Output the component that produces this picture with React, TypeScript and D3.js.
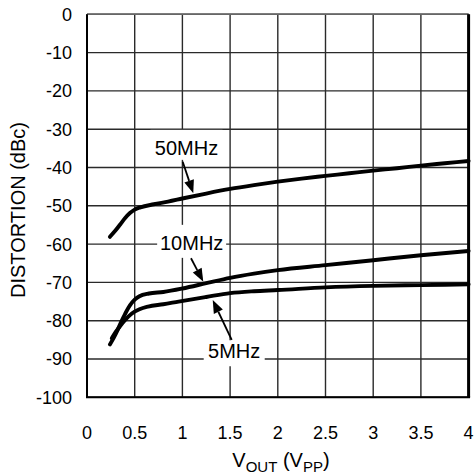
import React from "react";
import * as d3 from "d3";

const xTicks = [0, 0.5, 1, 1.5, 2, 2.5, 3, 3.5, 4];
const xTickLabels = ["0", "0.5", "1", "1.5", "2", "2.5", "3", "3.5", "4"];
const yTicks = [0, -10, -20, -30, -40, -50, -60, -70, -80, -90, -100];

const x50 = [0.24, 0.3, 0.35, 0.4, 0.45, 0.5, 0.56, 0.7, 0.85, 1.0, 1.25, 1.5, 1.75, 2.0, 2.25, 2.5, 2.75, 3.0, 3.25, 3.5, 3.75, 4.0];
const y50 = [-58.1, -56.4, -54.8, -53.2, -51.9, -51.0, -50.4, -49.6, -48.9, -48.1, -46.8, -45.6, -44.6, -43.7, -42.9, -42.2, -41.5, -40.8, -40.2, -39.5, -38.9, -38.3];

const x10 = [0.24, 0.28, 0.32, 0.36, 0.4, 0.45, 0.5, 0.55, 0.65, 0.8, 1.0, 1.25, 1.5, 1.75, 2.0, 2.5, 3.0, 3.5, 4.0];
const y10 = [-86.2, -84.5, -82.5, -80.2, -78.2, -76.0, -74.5, -73.6, -72.9, -72.5, -71.6, -70.2, -68.8, -67.7, -66.8, -65.5, -64.2, -62.9, -61.8];

const x5 = [0.26, 0.3, 0.35, 0.4, 0.47, 0.55, 0.64, 0.8, 0.96, 1.25, 1.5, 1.75, 2.0, 2.5, 3.0, 3.5, 4.0];
const y5 = [-84.6, -83.0, -81.3, -79.8, -78.1, -77.0, -76.3, -75.7, -75.0, -73.8, -72.8, -72.3, -72.0, -71.3, -70.9, -70.7, -70.5];

const seriesNames = ["50MHz", "10MHz", "5MHz"];
const seriesX = [x50, x10, x5];
const seriesY = [y50, y10, y5];

// annotation anchors in data units: label center x, label baseline y, arrow tail, arrow head
const labelX = [1.043, 1.097, 1.543];
const labelY = [-36.7, -61.5, -89.8];
const tailX = [1.003, 1.09, 1.517];
const tailY = [-38.5, -63.7, -85.0];
const headX = [1.114, 1.219, 1.318];
const headY = [-46.7, -69.8, -74.6];

const W = 474;
const H = 476;
const left = 87;
const right = 468.6;
const top = 14.3;
const bottom = 397.3;
const font = "'Liberation Sans', Arial, Helvetica, sans-serif";

export default function App() {
  const xs = d3.scaleLinear().domain([0, 4]).range([left, right]);
  const ys = d3.scaleLinear().domain([0, -100]).range([top, bottom]);
  const line = d3
    .line<[number, number]>()
    .x((d) => xs(d[0]))
    .y((d) => ys(d[1]))
    .curve(d3.curveMonotoneX);

  const boxTop = [-25, -25, -18];
  const boxBot = [5, 8, 8];
  const textW = [63, 60, 52];

  return (
    <svg
      width={W}
      height={H}
      style={{ position: "absolute", left: 0, top: 0, background: "#fff" }}
      fontFamily={font}
    >
      <rect x={0} y={0} width={W} height={H} fill="#fff" />
      {/* grid */}
      {xTicks.map((t) => (
        <line key={"gx" + t} x1={xs(t)} x2={xs(t)} y1={top} y2={bottom} stroke="#2a2a2a" strokeWidth={1.4} />
      ))}
      {yTicks.map((t) => (
        <line key={"gy" + t} x1={left} x2={right} y1={ys(t)} y2={ys(t)} stroke="#2a2a2a" strokeWidth={1.4} />
      ))}
      {/* frame */}
      <line x1={left} x2={right} y1={top} y2={top} stroke="#666" strokeWidth={1.4} />
      <line x1={left} x2={left} y1={top} y2={bottom} stroke="#000" strokeWidth={2} />
      <line x1={left - 1} x2={right + 1.5} y1={bottom} y2={bottom} stroke="#000" strokeWidth={2} />
      <line x1={right} x2={right} y1={top} y2={bottom} stroke="#000" strokeWidth={3} />

      {/* curves */}
      {seriesNames.map((n, i) => (
        <path
          key={n}
          d={line(seriesX[i].map((v, j) => [v, seriesY[i][j]] as [number, number])) || ""}
          fill="none"
          stroke="#000"
          strokeWidth={3.9}
          strokeLinecap="round"
          strokeLinejoin="round"
        />
      ))}

      {/* annotations */}
      {seriesNames.map((n, i) => {
        const cx = xs(labelX[i]);
        const by = ys(labelY[i]);
        const x1 = xs(tailX[i]);
        const y1 = ys(tailY[i]);
        const x2 = xs(headX[i]);
        const y2 = ys(headY[i]);
        const ang = Math.atan2(y2 - y1, x2 - x1);
        const hl = 13;
        const hw = 5;
        const bx = x2 - hl * Math.cos(ang);
        const byy = y2 - hl * Math.sin(ang);
        const px = -Math.sin(ang) * hw;
        const py = Math.cos(ang) * hw;
        return (
          <g key={"a" + n}>
            <rect
              x={cx - textW[i] / 2 - 4.5}
              y={by + boxTop[i]}
              width={textW[i] + 9}
              height={boxBot[i] - boxTop[i]}
              fill="#fff"
            />
            <text x={cx} y={by} textAnchor="middle" fontSize={20} fill="#000">
              {n}
            </text>
            <line x1={x1} y1={y1} x2={bx} y2={byy} stroke="#000" strokeWidth={1.8} />
            <polygon
              points={`${x2},${y2} ${bx + px},${byy + py} ${bx - px},${byy - py}`}
              fill="#000"
            />
          </g>
        );
      })}

      {/* y tick labels */}
      {yTicks.map((t) => (
        <text
          key={"yl" + t}
          x={72}
          y={ys(t)}
          dy="0.36em"
          textAnchor="end"
          fontSize={18}
          fill="#000"
        >
          {String(t)}
        </text>
      ))}
      {/* x tick labels */}
      {xTicks.map((t, i) => (
        <text key={"xl" + t} x={xs(t)} y={439} textAnchor="middle" fontSize={18} fill="#000">
          {xTickLabels[i]}
        </text>
      ))}

      {/* axis titles */}
      <text
        transform={`translate(25, 210) rotate(-90)`}
        textAnchor="middle"
        fontSize={20}
        fill="#000"
      >
        DISTORTION (dBc)
      </text>
      <text x={281} y={467} textAnchor="middle" fontSize={20} fill="#000">
        V<tspan fontSize={15} dy={5}>OUT</tspan>
        <tspan dy={-5}> (V</tspan>
        <tspan fontSize={15} dy={5}>PP</tspan>
        <tspan dy={-5}>)</tspan>
      </text>
    </svg>
  );
}
